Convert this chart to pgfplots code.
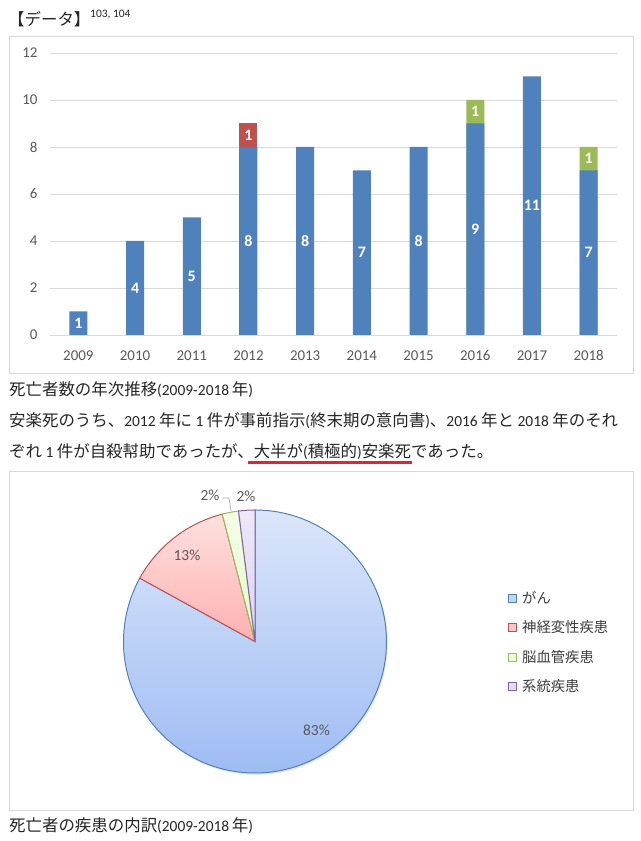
\documentclass[border=0pt]{standalone}
\usepackage{fontspec}
\setmainfont{Carlito}
\newfontfamily\cjk{Noto Sans CJK JP}[Scale=1.065]
\usepackage{pgfplots}
\pgfplotsset{compat=1.18}
\definecolor{barblue}{HTML}{4F81BD}
\definecolor{barred}{HTML}{C0504D}
\definecolor{bargreen}{HTML}{9BBB59}
\definecolor{barpurple}{HTML}{8064A2}
\definecolor{gridgray}{HTML}{D9D9D9}
\definecolor{tickgray}{HTML}{595959}
\definecolor{textc}{HTML}{262626}
\definecolor{ulred}{HTML}{E42528}
\definecolor{pieBt}{HTML}{DCE6FA}\definecolor{pieBb}{HTML}{9EBCF3}\definecolor{pieBm}{HTML}{C2D5F7}
\definecolor{pieRt}{HTML}{FFE0E0}\definecolor{pieRb}{HTML}{FFB0B0}\definecolor{pieRm}{HTML}{FFC6C6}
\definecolor{pieGt}{HTML}{F3FFE6}\definecolor{pieGb}{HTML}{E3F9CC}\definecolor{pieGm}{HTML}{EBFCD9}
\definecolor{piePt}{HTML}{EEE8F8}\definecolor{piePb}{HTML}{DDD2F0}\definecolor{piePm}{HTML}{E5DCF4}
\newcommand\J[1]{{\cjk #1}}
\begin{document}
\begin{tikzpicture}
\useasboundingbox (0,0) rectangle (641bp,841bp);
\fill[white] (0,0) rectangle (641bp,841bp);
% frames
\draw[gridgray, line width=1bp] (9bp,467bp) rectangle (633bp,804bp);
\draw[gridgray, line width=1bp] (9bp,30bp) rectangle (633bp,369bp);
% title
\node[anchor=west, inner sep=0pt, font=\fontsize{15.5}{18}\selectfont, text=textc] at (8bp,822bp) {\J{【データ】}};
\node[anchor=west, inner sep=0pt, font=\fontsize{11.5}{13}\selectfont, text=textc] at (90bp,826bp) {103, 104};
% bar chart
\begin{axis}[
  at={(50bp,506bp)}, anchor=south west,
  scale only axis, width=567bp, height=282bp,
  xmin=-0.5, xmax=9.5, ymin=0, ymax=12,
  xtick={0,1,2,3,4,5,6,7,8,9},
  xticklabels={2009,2010,2011,2012,2013,2014,2015,2016,2017,2018},
  ytick={0,2,4,6,8,10,12},
  axis line style={draw=none}, major tick length=0pt,
  ymajorgrids, grid style={draw=gridgray, line width=0.9bp},
  /pgf/number format/assume math mode=true,
  tick label style={font=\fontsize{15}{18}\selectfont, text=tickgray},
  xticklabel style={yshift=-12bp}, yticklabel style={xshift=-9bp},
  clip=false,
]
\addplot[ybar, bar width=18bp, bar shift=0pt, fill=barred, draw=none] coordinates {(3,9)};
\addplot[ybar, bar width=18bp, bar shift=0pt, fill=bargreen, draw=none] coordinates {(7,10) (9,8)};
\addplot[ybar, bar width=18bp, bar shift=0pt, fill=barblue, draw=none] coordinates {(0,1) (1,4) (2,5) (3,8) (4,8) (5,7) (6,8) (7,9) (8,11) (9,7)};
\addplot[draw=none, mark=none, nodes near coords, point meta=explicit symbolic,
  every node near coord/.append style={anchor=center, text=white, font=\bfseries\fontsize{16}{18}\selectfont, inner sep=0pt}]
  coordinates {(0,0.5)[1] (1,2)[4] (2,2.5)[5] (3,4)[8] (3,8.5)[1] (4,4)[8] (5,3.5)[7] (6,4)[8] (7,4.5)[9] (7,9.5)[1] (8,5.5)[11] (9,3.5)[7] (9,7.5)[1]};
\end{axis}
% texts
\node[anchor=west, inner sep=0pt, font=\fontsize{15.5}{18}\selectfont, text=textc] at (9bp,451bp) {\J{死亡者数の年次推移}(2009-2018\,\J{年})};
\node[anchor=west, inner sep=0pt, font=\fontsize{15.5}{18}\selectfont, text=textc] at (9bp,420bp) {\J{安楽死のうち、}2012 \J{年に} 1 \J{件が事前指示}(\J{終末期の意向書})\J{、}2016 \J{年と} 2018 \J{年のそれ}};
\node[anchor=west, inner sep=0pt, font=\fontsize{15.5}{18}\selectfont, text=textc] at (9bp,389bp) {\J{ぞれ} 1 \J{件が自殺幇助であったが、大半が}(\J{積極的})\J{安楽死であった。}};
\draw[ulred, line width=3bp] (248bp,378bp) -- (412bp,378bp);
\node[anchor=west, inner sep=0pt, font=\fontsize{15.5}{18}\selectfont, text=textc] at (9bp,15bp) {\J{死亡者の疾患の内訳}(2009-2018\,\J{年})};
% pie
\def\vA{83}\def\vB{13}\def\vC{2}\def\vD{2}
\pgfmathsetmacro\aA{90}
\pgfmathsetmacro\aB{\aA-3.6*\vA}
\pgfmathsetmacro\aC{\aB-3.6*\vB}
\pgfmathsetmacro\aD{\aC-3.6*\vC}
\pgfmathsetmacro\aE{\aD-3.6*\vD}
\def\R{131.5bp}
\begin{axis}[at={(255bp,199.5bp)}, anchor=center, hide axis, x=1bp, y=1bp,
  xmin=-140, xmax=140, ymin=-140, ymax=140, clip=false]
\fill[black, opacity=0.10] (axis cs:1.2,-1.8) circle[radius=\R];
\shadedraw[top color=pieBt, bottom color=pieBb, draw=barblue, line width=1bp] (axis cs:0,0) -- ++(\aA:\R) arc[start angle=\aA, end angle=\aB, radius=\R] -- cycle;
\shadedraw[top color=pieRt, bottom color=pieRb, draw=barred, line width=1bp] (axis cs:0,0) -- ++(\aB:\R) arc[start angle=\aB, end angle=\aC, radius=\R] -- cycle;
\shadedraw[top color=pieGt, bottom color=pieGb, draw=bargreen, line width=1bp] (axis cs:0,0) -- ++(\aC:\R) arc[start angle=\aC, end angle=\aD, radius=\R] -- cycle;
\shadedraw[top color=piePt, bottom color=piePb, draw=barpurple, line width=1bp] (axis cs:0,0) -- ++(\aD:\R) arc[start angle=\aD, end angle=\aE, radius=\R] -- cycle;
\node[font=\fontsize{15.5}{18}\selectfont, text=tickgray] at (axis cs:61.5,-88.5) {83\%};
\node[font=\fontsize{15.5}{18}\selectfont, text=tickgray] at (axis cs:-68,86.5) {13\%};
\node[font=\fontsize{15.5}{18}\selectfont, text=tickgray] at (axis cs:-45,146.5) {2\%};
\node[font=\fontsize{15.5}{18}\selectfont, text=tickgray] at (axis cs:-9,145.5) {2\%};
\draw[gray!60, line width=0.8bp] (axis cs:-32.5,143.5) -- (axis cs:-26,143.5) -- (axis cs:-24,130.5);
\end{axis}
% legend
\filldraw[fill=pieBm, draw=barblue, line width=0.8bp] (508bp,239bp) rectangle (516bp,247bp);
\filldraw[fill=pieRm, draw=barred, line width=0.8bp] (508bp,210bp) rectangle (516bp,218bp);
\filldraw[fill=pieGm, draw=bargreen, line width=0.8bp] (508bp,180bp) rectangle (516bp,188bp);
\filldraw[fill=piePm, draw=barpurple, line width=0.8bp] (508bp,151bp) rectangle (516bp,159bp);
\node[anchor=west, inner sep=0pt, font=\fontsize{13.5}{15}\selectfont\cjk, text=tickgray!70!black] at (522bp,243bp) {がん};
\node[anchor=west, inner sep=0pt, font=\fontsize{13.5}{15}\selectfont\cjk, text=tickgray!70!black] at (522bp,214bp) {神経変性疾患};
\node[anchor=west, inner sep=0pt, font=\fontsize{13.5}{15}\selectfont\cjk, text=tickgray!70!black] at (522bp,184bp) {脳血管疾患};
\node[anchor=west, inner sep=0pt, font=\fontsize{13.5}{15}\selectfont\cjk, text=tickgray!70!black] at (522bp,155bp) {系統疾患};
\end{tikzpicture}
\end{document}
